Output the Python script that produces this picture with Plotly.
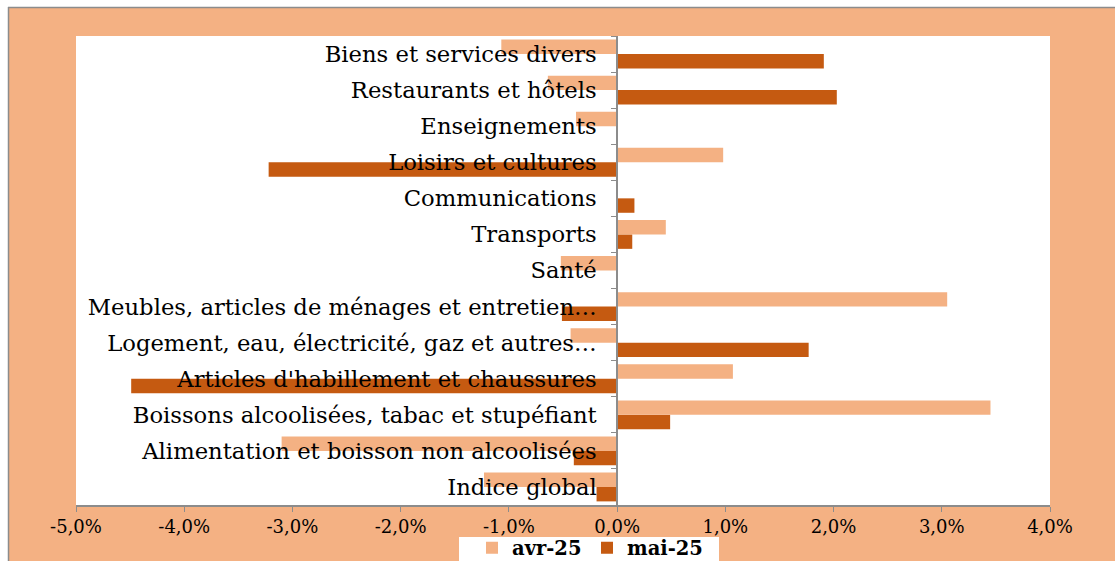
import plotly.graph_objects as go

categories = [
    "Indice global",
    "Alimentation et boisson non alcoolisées",
    "Boissons alcoolisées, tabac et stupéfiant",
    "Articles d'habillement et chaussures",
    "Logement, eau, électricité, gaz et autres…",
    "Meubles, articles de ménages et entretien…",
    "Santé",
    "Transports",
    "Communications",
    "Loisirs et cultures",
    "Enseignements",
    "Restaurants et hôtels",
    "Biens et services divers",
]
avr_25 = [-1.23, -3.10, 3.45, 1.07, -0.43, 3.05, -0.52, 0.45, 0.0, 0.98, -0.38, -0.64, -1.07]
mai_25 = [-0.19, -0.40, 0.49, -4.49, 1.77, -0.51, 0.0, 0.14, 0.16, -3.22, 0.0, 2.03, 1.91]

tick_vals = [-5, -4, -3, -2, -1, 0, 1, 2, 3, 4]
tick_text = ["-5,0%", "-4,0%", "-3,0%", "-2,0%", "-1,0%", "0,0%", "1,0%", "2,0%", "3,0%", "4,0%"]

LIGHT = "#F4B183"
DARK = "#C55A11"
GRAY = "#8C8C8C"
W, H = 1115, 561
L, R, T, B = 76, 1050, 36, 505
pw, ph = R - L, B - T


def px(x):
    return (x - L) / pw


def py(y):
    return (B - y) / ph


fig = go.Figure()
fig.add_trace(go.Bar(y=categories, x=mai_25, name="mai-25", orientation="h",
                     marker=dict(color=DARK, line=dict(width=0)), legendrank=2))
fig.add_trace(go.Bar(y=categories, x=avr_25, name="avr-25", orientation="h",
                     marker=dict(color=LIGHT, line=dict(width=0)), legendrank=1))

shapes = [
    # white strips outside the chart frame
    dict(type="rect", xref="paper", yref="paper", x0=px(-5), x1=px(W + 5), y0=py(7), y1=py(-5),
         fillcolor="white", line=dict(width=0), layer="above"),
    dict(type="rect", xref="paper", yref="paper", x0=px(-5), x1=px(8), y0=py(H + 5), y1=py(-5),
         fillcolor="white", line=dict(width=0), layer="above"),
    dict(type="line", xref="paper", yref="paper", x0=px(8), x1=px(W + 5), y0=py(7.5), y1=py(7.5),
         line=dict(color=GRAY, width=1.5), layer="above"),
    dict(type="line", xref="paper", yref="paper", x0=px(8.5), x1=px(8.5), y0=py(7), y1=py(H + 5),
         line=dict(color=GRAY, width=1.5), layer="above"),
    # legend background
    dict(type="rect", xref="paper", yref="paper", x0=px(459), x1=px(719), y0=py(H + 5), y1=py(537),
         fillcolor="white", line=dict(width=0), layer="below"),
]

fig.update_layout(
    width=W, height=H,
    margin=dict(l=L, r=W - R, t=T, b=H - B, pad=0, autoexpand=False),
    paper_bgcolor=LIGHT,
    plot_bgcolor="white",
    barmode="group",
    bargap=0.2,
    bargroupgap=0,
    font=dict(family="DejaVu Serif", color="black"),
    shapes=shapes,
    showlegend=True,
    legend=dict(orientation="h", x=px(587), xanchor="center", y=py(548), yanchor="middle",
                bgcolor="rgba(0,0,0,0)", font=dict(size=19.5, family="DejaVu Serif", weight="bold"),
                itemwidth=30, traceorder="normal", entrywidth=70, tracegroupgap=0),
    xaxis=dict(range=[-5, 4], tickvals=tick_vals, ticktext=tick_text, showgrid=False, zeroline=False,
               showline=True, linecolor=GRAY, linewidth=1.5, ticks="outside", ticklen=5,
               tickcolor=GRAY, tickfont=dict(size=18, family="DejaVu Serif"), fixedrange=True),
    yaxis=dict(categoryorder="array", categoryarray=categories, anchor="free", position=px(617),
               showgrid=False, zeroline=False, showline=True, linecolor=GRAY, linewidth=1.5,
               ticks="outside", ticklen=5, tickcolor=GRAY, tickson="boundaries",
               tickfont=dict(size=22.7, family="DejaVu Serif"), ticklabelstandoff=15,
               range=[-0.5, len(categories) - 0.5], fixedrange=True),
)

fig.write_html("out.html", config={"displayModeBar": False},
               post_script="document.body.style.margin='0px';")
